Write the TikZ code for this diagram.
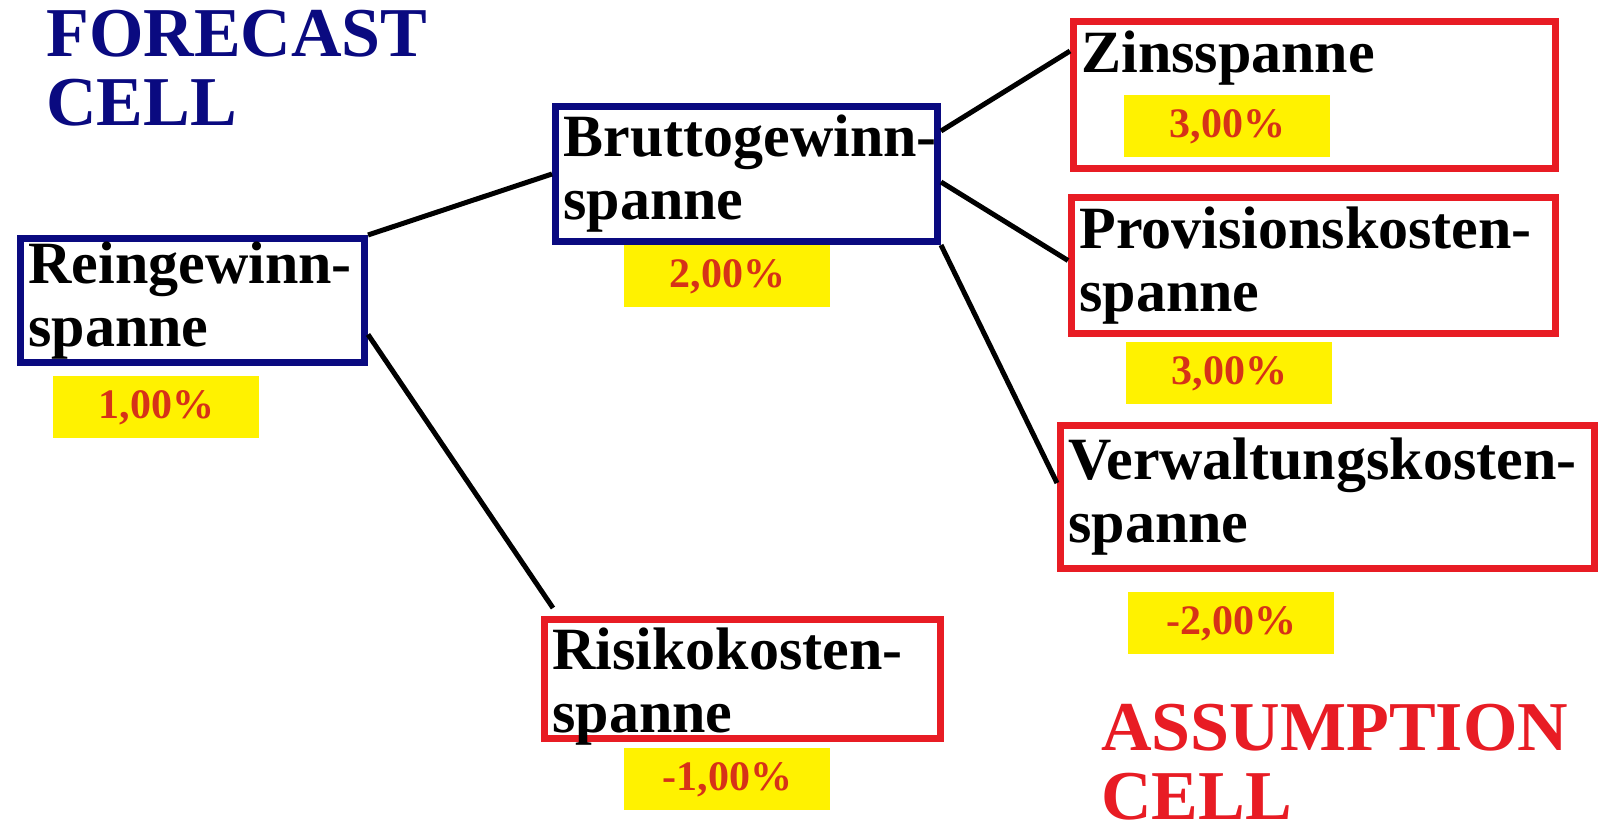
\documentclass[tikz,border=0pt]{standalone}
\usepackage{fontspec}
\setmainfont{Liberation Serif}
\usetikzlibrary{positioning}
\definecolor{cellnavy}{RGB}{10,10,128}
\definecolor{cellred}{RGB}{232,28,36}
\definecolor{cellyellow}{RGB}{255,242,0}
\definecolor{valred}{RGB}{214,50,24}

\begin{document}
\begin{tikzpicture}[x=0.5pt, y=-0.5pt]
\tikzstyle{cell}=[rectangle, line width=3.5pt, inner xsep=4pt, inner ysep=0pt, align=left, font=\bfseries\fontsize{30}{31.5}\selectfont]
\tikzstyle{forecast}=[cell, draw=cellnavy]
\tikzstyle{assume}=[cell, draw=cellred]
\tikzstyle{value}=[rectangle, fill=cellyellow, minimum width=103pt, minimum height=31pt, inner sep=0pt, text=valred, font=\bfseries\fontsize{21}{21}\selectfont]
\tikzstyle{title}=[anchor=north west, inner sep=0pt, align=left, text depth=0pt, font=\bfseries\fontsize{35}{34.5}\selectfont]
\tikzstyle{connect}=[line width=2.5pt, black]
    \useasboundingbox[fill=white] (0,0) rectangle (1601,830);

    % headings
    \node[title, text=cellnavy] (fctitle) at (46,10) {FORECAST\\CELL};
    \node[title, text=cellred] (astitle) at (1101,704) {ASSUMPTION\\CELL};

    % forecast cells
    \node[forecast, text width=164pt, minimum height=62pt] (rein) at (192.5,300.5) {Reingewinn-\\spanne};
    \node[forecast, text width=183pt, minimum height=67.5pt] (brutto) at (746.5,174) {\mbox{Bruttogewinn-}\\spanne};

    % assumption cells
    \node[assume, text width=190pt, minimum height=59.5pt, text depth=30pt] (risiko) at (742.5,679) {Risikokosten-\\spanne};
    \node[assume, text width=233pt, minimum height=73.5pt, text height=20pt, text depth=43pt] (zins) at (1314.5,95) {Zinsspanne};
    \node[assume, text width=234pt, minimum height=68pt] (prov) at (1313.5,265.5) {Provisionskosten-\\spanne};
    \node[assume, text width=259pt, minimum height=71.5pt] (verw) at (1327.5,497) {Verwaltungskosten-\\spanne};

    % values
    \node[value] (reinval) [below right=5pt and 18pt of rein.south west] {1,00\%};
    \node[value] (bruttoval) [below right=0pt and 36pt of brutto.south west] {2,00\%};
    \node[value] (risikoval) [below right=3pt and 41.5pt of risiko.south west] {-1,00\%};
    \node[value] (zinsval) [below right=0pt and 27pt of zins.west] {3,00\%};
    \node[value] (provval) [below right=2.5pt and 29pt of prov.south west] {3,00\%};
    \node[value] (verwval) [below right=10pt and 35.5pt of verw.south west] {-2,00\%};

    \path (rein.north east) edge [connect] (brutto.west)
          ([yshift=-17pt]rein.east) edge [connect] ([shift={(6pt,4pt)}]risiko.north west)
          ([yshift=21.5pt]brutto.east) edge [connect] ([yshift=22pt]zins.west)
          ([yshift=-4pt]brutto.east) edge [connect] ([yshift=2.5pt]prov.west)
          (brutto.south east) edge [connect] ([yshift=7pt]verw.west);
\end{tikzpicture}
\end{document}
